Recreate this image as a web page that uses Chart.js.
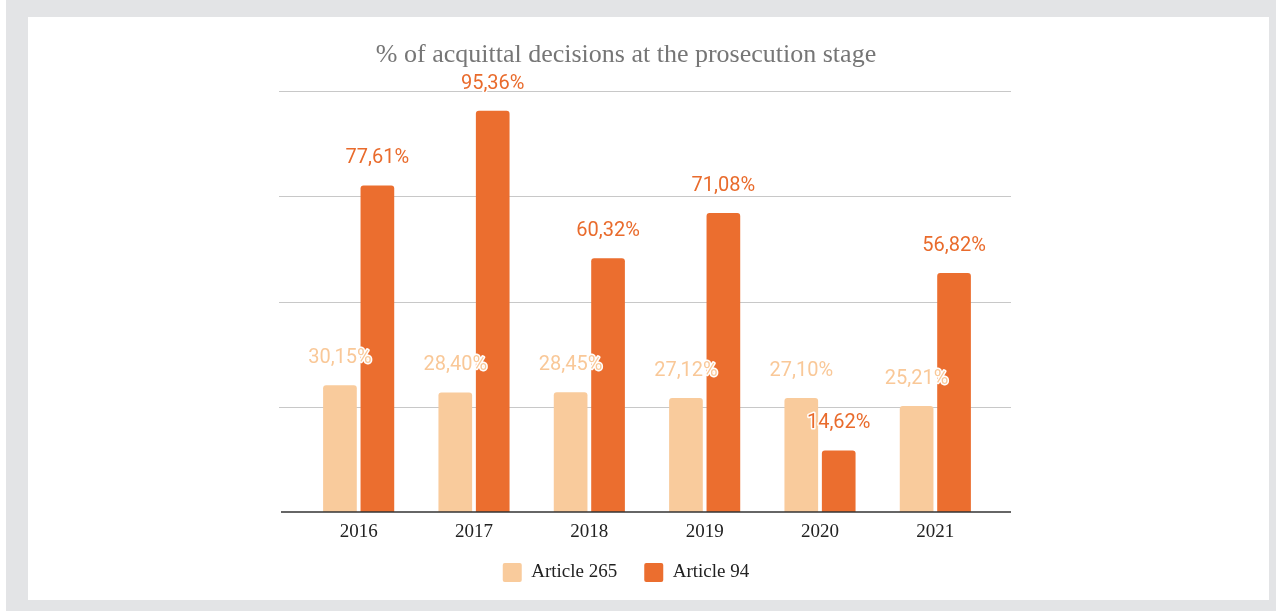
<!DOCTYPE html>
<html>
<head>
<meta charset="utf-8">
<script src="https://cdn.jsdelivr.net/npm/chart.js@4"></script>
<style>
  html, body { margin: 0; padding: 0; }
  body { width: 1276px; height: 611px; background: #e3e4e6; position: relative; overflow: hidden; }
  #edge { position: absolute; left: 0; top: 0; width: 6px; height: 611px; background: #fff; }
  #panel { position: absolute; left: 28px; top: 17px; width: 1241px; height: 583px; background: #fff; }
  #chart { display: block; }
</style>
</head>
<body>
<div id="edge"></div>
<div id="panel"><canvas id="chart" width="1241" height="583"></canvas></div>
<script>
var years = ['2016', '2017', '2018', '2019', '2020', '2021'];
var article265 = [30.15, 28.40, 28.45, 27.12, 27.10, 25.21];
var article94 = [77.61, 95.36, 60.32, 71.08, 14.62, 56.82];

var lightColor = '#f9cb9c';
var darkColor = '#eb6e2f';

// gridlines run a bit past the bars on both sides
var gridLines = {
    id: 'gridLines',
    beforeDatasetsDraw: function(chart) {
        var ctx = chart.ctx, area = chart.chartArea, y = chart.scales.y;
        ctx.save();
        ctx.strokeStyle = '#c8c8c8';
        ctx.lineWidth = 1;
        y.ticks.forEach(function(t) {
            if (t.value === 0) return;
            var py = Math.round(y.getPixelForValue(t.value)) + 0.5;
            ctx.beginPath();
            ctx.moveTo(area.left - 22, py);
            ctx.lineTo(area.right + 18, py);
            ctx.stroke();
        });
        ctx.restore();
    },
    afterDatasetsDraw: function(chart) {
        var ctx = chart.ctx, area = chart.chartArea, y = chart.scales.y;
        var py = y.getPixelForValue(0);
        ctx.save();
        ctx.strokeStyle = '#333';
        ctx.lineWidth = 1.6;
        ctx.beginPath();
        ctx.moveTo(area.left - 20, py);
        ctx.lineTo(area.right + 18, py);
        ctx.stroke();
        ctx.restore();
    }
};

var valueLabels = {
    id: 'valueLabels',
    afterDatasetsDraw: function(chart) {
        var ctx = chart.ctx;
        ctx.save();
        ctx.font = '20px Roboto';
        ctx.textAlign = 'center';
        ctx.textBaseline = 'alphabetic';
        ctx.lineJoin = 'round';
        chart.data.datasets.forEach(function(ds, i) {
            var meta = chart.getDatasetMeta(i);
            meta.data.forEach(function(bar, j) {
                var txt = ds.data[j].toFixed(2).replace('.', ',') + '%';
                ctx.strokeStyle = '#fff';
                ctx.lineWidth = 3;
                ctx.strokeText(txt, bar.x, bar.y - 22);
                ctx.fillStyle = ds.labelColor;
                ctx.fillText(txt, bar.x, bar.y - 22);
            });
        });
        ctx.restore();
    }
};

var ctx = document.getElementById('chart');

var myChart = new Chart(ctx, {
    type: 'bar',
    data: {
        labels: years,
        datasets: [{
            label: 'Article 265',
            data: article265,
            backgroundColor: lightColor,
            labelColor: '#f9c898',
            borderRadius: {topLeft: 3, topRight: 3},
            borderSkipped: 'bottom'
        }, {
            label: 'Article 94',
            data: article94,
            backgroundColor: darkColor,
            labelColor: '#e96b2c',
            borderRadius: {topLeft: 3, topRight: 3},
            borderSkipped: 'bottom'
        }]
    },
    options: {
        responsive: false,
        animation: false,
        layout: {
            padding: {left: 231, right: 276, top: 0, bottom: 8}
        },
        datasets: {
            bar: {
                categoryPercentage: 0.649,
                barPercentage: 0.9
            }
        },
        scales: {
            x: {
                grid: {display: false, drawTicks: false},
                border: {display: false},
                ticks: {
                    // mirrored so the labels are not clipped by the short axis box
                    mirror: true,
                    padding: -31,
                    color: '#222',
                    font: {family: "'Liberation Serif', serif", size: 19}
                },
                afterFit: function(scale) {
                    scale.height = 24;
                }
            },
            y: {
                min: 0,
                max: 100,
                ticks: {display: false, stepSize: 25},
                grid: {display: false},
                border: {display: false},
                afterFit: function(scale) {
                    scale.width = 42;
                }
            }
        },
        plugins: {
            title: {
                display: true,
                text: '% of acquittal decisions at the prosecution stage',
                color: '#767676',
                font: {family: "'Liberation Serif', serif", size: 26, weight: 'normal'},
                padding: {top: 23, bottom: 20}
            },
            legend: {
                position: 'bottom',
                labels: {
                    boxWidth: 19,
                    boxHeight: 19,
                    padding: 27,
                    color: '#222',
                    useBorderRadius: true,
                    borderRadius: 2,
                    font: {family: "'Liberation Serif', serif", size: 19}
                }
            },
            tooltip: {enabled: false}
        }
    },
    plugins: [gridLines, valueLabels]
});
</script>
</body>
</html>
